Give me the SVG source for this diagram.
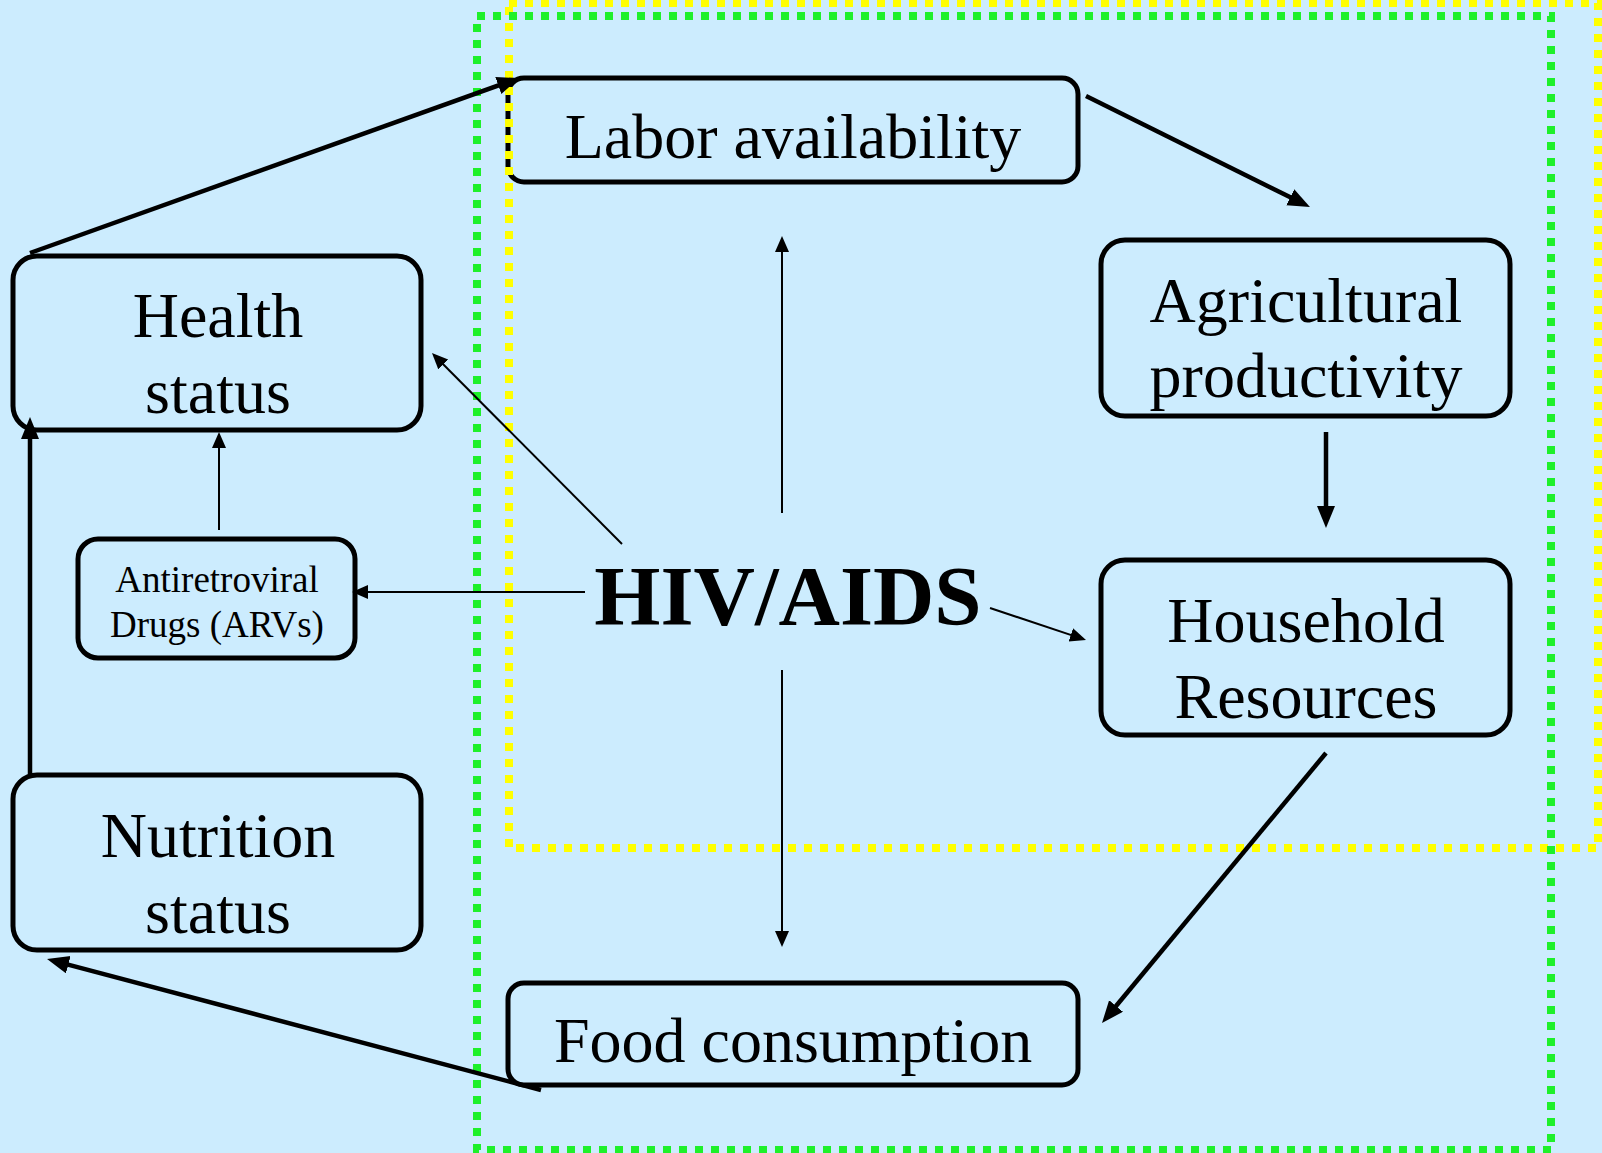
<svg xmlns="http://www.w3.org/2000/svg" width="1602" height="1153" viewBox="0 0 1602 1153">
<style>
.box{fill:#CCECFE;stroke:#000;stroke-width:5}
.lbl{font-family:"Liberation Serif","Times New Roman",serif;font-size:64px;fill:#000;text-anchor:middle}
.small{font-family:"Liberation Serif","Times New Roman",serif;font-size:37px;fill:#000;text-anchor:middle}
.thick{stroke:#000;stroke-width:4.5;fill:none;marker-end:url(#hThick)}
.thin{stroke:#000;stroke-width:2;fill:none;marker-end:url(#hThin)}
.green{fill:none;stroke:#1EF02A;stroke-width:8;stroke-dasharray:8 8}
.yellow{fill:none;stroke:#FFFF00;stroke-width:8;stroke-dasharray:8 8}
</style>
<defs>
<marker id="hThick" markerUnits="userSpaceOnUse" markerWidth="24" markerHeight="20" refX="12" refY="9" orient="auto">
<path d="M0,0 L22,9 L0,18 z" fill="#000"/>
</marker>
<marker id="hThin" markerUnits="userSpaceOnUse" markerWidth="18" markerHeight="16" refX="10" refY="7" orient="auto">
<path d="M0,0 L16,7 L0,14 z" fill="#000"/>
</marker>
</defs>
<rect x="0" y="0" width="1602" height="1153" fill="#CCECFE"/>

<g id="labor"><rect class="box" x="508" y="78" width="570" height="104" rx="16"/><text class="lbl" x="793" y="158">Labor availability</text></g>
<g id="agri"><rect class="box" x="1101" y="240" width="409" height="176" rx="24"/><text class="lbl" x="1306" y="322">Agricultural</text><text class="lbl" x="1306" y="397">productivity</text></g>
<g id="household"><rect class="box" x="1101" y="560" width="409" height="175" rx="24"/><text class="lbl" x="1306" y="642">Household</text><text class="lbl" x="1306" y="718">Resources</text></g>
<g id="food"><rect class="box" x="508" y="983" width="570" height="102" rx="16"/><text class="lbl" x="793" y="1062">Food consumption</text></g>
<g id="health"><rect class="box" x="13" y="256" width="408" height="174" rx="24"/><text class="lbl" x="218" y="337">Health</text><text class="lbl" x="218" y="413">status</text></g>
<g id="arvs"><rect class="box" x="78" y="539" width="277" height="119" rx="20"/><text class="small" x="217" y="592">Antiretroviral</text><text class="small" x="217" y="637">Drugs (ARVs)</text></g>
<g id="nutrition"><rect class="box" x="13" y="775" width="408" height="175" rx="24"/><text class="lbl" x="218" y="857">Nutrition</text><text class="lbl" x="218" y="933">status</text></g>
<g id="hiv"><text x="788" y="625" font-family="Liberation Serif, Times New Roman, serif" font-size="85" font-weight="bold" text-anchor="middle" fill="#000">HIV/AIDS</text></g>

<g id="regions">
<rect class="yellow" x="509" y="3" width="1089" height="845"/>
<rect class="green" x="477" y="16" width="1074" height="1134"/>
</g>

<g id="connectors">
<line class="thick" x1="30" y1="253" x2="509.6" y2="81.4"/>
<line class="thick" x1="1086" y1="96" x2="1301" y2="202.6"/>
<line class="thick" x1="1326" y1="432" x2="1326" y2="518"/>
<line class="thick" x1="1326" y1="753" x2="1108.4" y2="1015.3"/>
<line class="thick" x1="541" y1="1090" x2="56.7" y2="961.6"/>
<line class="thick" x1="30" y1="775" x2="30" y2="427"/>
<line class="thin" x1="219" y1="530" x2="219" y2="438"/>
<line class="thin" x1="622" y1="544" x2="436.2" y2="357.3"/>
<line class="thin" x1="585" y1="592" x2="358" y2="592"/>
<line class="thin" x1="782" y1="513" x2="782" y2="242"/>
<line class="thin" x1="782" y1="670" x2="782" y2="941"/>
<line class="thin" x1="990" y1="608" x2="1080.3" y2="638.1"/>
</g>
</svg>
